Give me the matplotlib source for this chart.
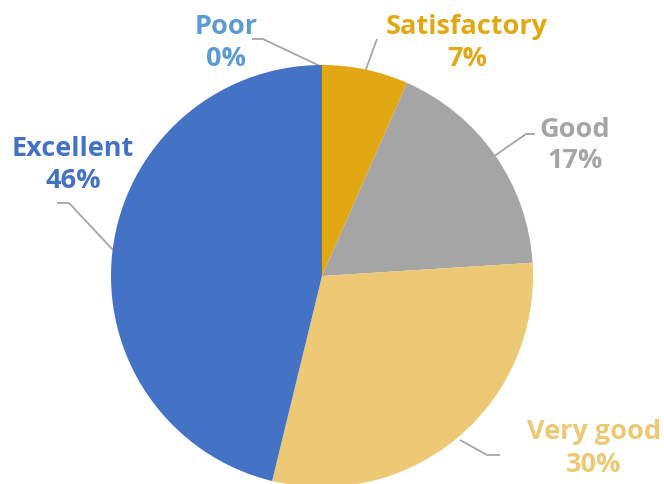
import matplotlib
matplotlib.use("Agg")
import matplotlib.pyplot as plt

categories = ["Poor", "Satisfactory", "Good", "Very good", "Excellent"]
values = [0.0, 6.6, 17.4, 29.8, 46.2]
pct_labels = ["0%", "7%", "17%", "30%", "46%"]
colors = ["#5B9BD5", "#E2A814", "#A5A5A5", "#EDC875", "#4472C4"]

W, H = 664, 484
fig = plt.figure(figsize=(W / 100, H / 100), dpi=100)
ax = fig.add_axes([0, 0, 1, 1])

def Y(y):
    return H - y

cx, cy, r = 322, 276, 211
ax.pie(values, colors=colors, startangle=90, counterclock=False,
       center=(cx, Y(cy)), radius=r, frame=True,
       wedgeprops=dict(linewidth=0))
ax.set_xlim(0, W)
ax.set_ylim(0, H)
ax.set_aspect("equal")
ax.axis("off")

# label positions (pixel coords: x center, baseline1, baseline2)
label_pos = {
    "Poor": (226, 34, 66),
    "Satisfactory": (467, 34, 66),
    "Good": (575, 137, 168),
    "Very good": (594, 439, 472),
    "Excellent": (73, 156, 188),
}
leaders = {
    "Poor": [(252, 39), (263, 39), (322, 67)],
    "Satisfactory": [(377, 39), (365, 72)],
    "Good": [(535, 134), (526, 134), (493, 157)],
    "Very good": [(460, 440), (487, 455), (500, 455)],
    "Excellent": [(57, 203), (69, 203), (113, 250)],
}
font = ["Open Sans", "DejaVu Sans"]
for cat, pct, col in zip(categories, pct_labels, colors):
    x, b1, b2 = label_pos[cat]
    ax.text(x, Y(b1), cat, ha="center", va="baseline", color=col,
            fontsize=19.5, fontweight="bold", family=font)
    ax.text(x, Y(b2), pct, ha="center", va="baseline", color=col,
            fontsize=19.5, fontweight="bold", family=font)
    pts = leaders[cat]
    ax.plot([p[0] for p in pts], [Y(p[1]) for p in pts], color="#A6A6A6",
            lw=1.3, solid_capstyle="butt", zorder=0.5)

fig.savefig("out.png", dpi=100)
